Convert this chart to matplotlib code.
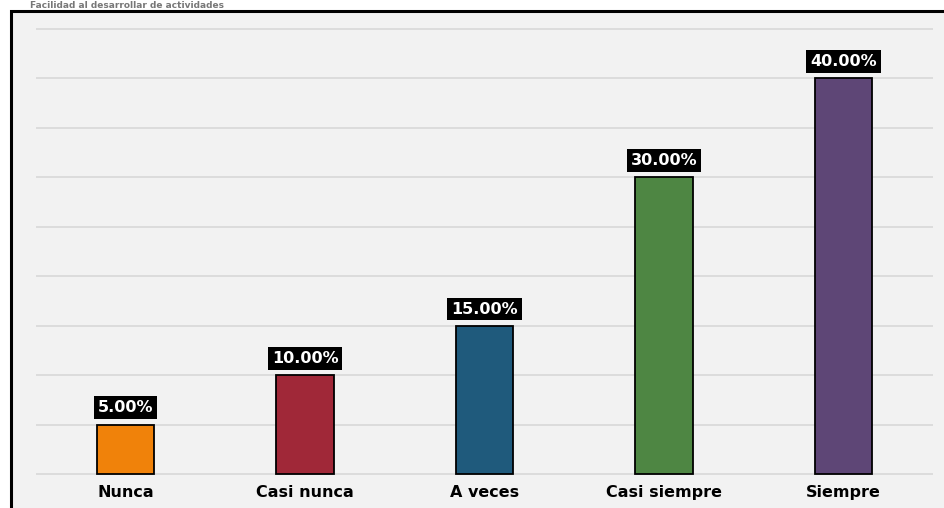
import matplotlib
matplotlib.use("Agg")
import matplotlib.pyplot as plt
from matplotlib.patches import Rectangle

categories = ["Nunca", "Casi nunca", "A veces", "Casi siempre", "Siempre"]
values = [5.0, 10.0, 15.0, 30.0, 40.0]
colors = ["#F0820A", "#A02838", "#1F5A7C", "#4E8643", "#5E4676"]
title = "Facilidad al desarrollar de actividades"

plt.rcParams["font.family"] = ["DejaVu Sans"]

W, H = 944, 508
fig = plt.figure(figsize=(W / 100, H / 100), dpi=100)
fig.patch.set_facecolor("white")

# panel frame, running off the right and bottom edges
frame = Rectangle((11 / W, -0.05), 1.1, (H - 11) / H + 0.05,
                  transform=fig.transFigure, facecolor="#F2F2F2",
                  edgecolor="black", linewidth=2.2, zorder=-5)
fig.patches.append(frame)

# title squeezed into the strip above the frame
fig.text(30 / W, 1.0 - 1 / H, title, ha="left", va="top",
         fontsize=6.5, fontweight="bold", color="#777777")

ymin, ymax = -0.5, 45.5
px_per_unit = 445 / 45
ax = fig.add_axes([36 / W, (34 - 0.5 * px_per_unit) / H,
                   897 / W, (ymax - ymin) * px_per_unit / H])
ax.set_zorder(2)
ax.set_facecolor("none")
x = range(len(categories))
ax.bar(x, values, width=0.32, color=colors, edgecolor="black",
       linewidth=1.3, zorder=3)

ax.set_xlim(-0.5, len(categories) - 0.5)
ax.set_ylim(ymin, ymax)
ax.set_yticks([i * 5 for i in range(10)])
ax.yaxis.grid(True, color="#DADADA", linewidth=1.3, zorder=0)
ax.tick_params(axis="y", left=False, labelleft=False)
ax.tick_params(axis="x", length=0, pad=4.5)
ax.set_xticks(list(x))
ax.set_xticklabels(categories, fontsize=11.5, fontweight="bold")
for s in ax.spines.values():
    s.set_visible(False)

for xi, v in zip(x, values):
    ax.annotate(f"{v:.2f}%", (xi, v), xytext=(0, 12), textcoords="offset points",
                ha="center", va="center", color="white", fontsize=11.5,
                fontweight="bold", zorder=5,
                bbox=dict(boxstyle="square,pad=0.25", facecolor="black",
                          edgecolor="none"))

fig.savefig("out.png", dpi=100)
